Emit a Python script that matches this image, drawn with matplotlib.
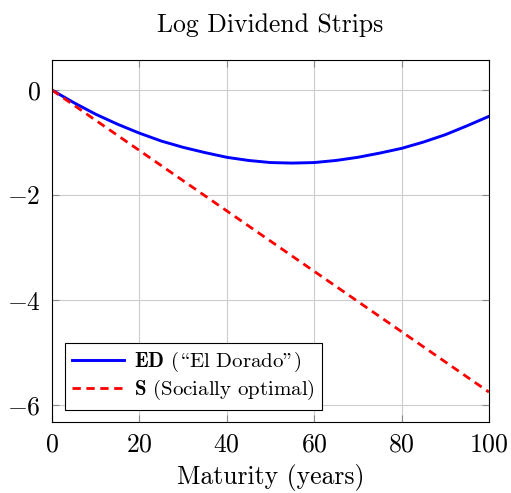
import numpy as np
import matplotlib
matplotlib.use("Agg")
import matplotlib.pyplot as plt

plt.rcParams['font.family'] = ['cmr10', 'DejaVu Serif']
plt.rcParams['mathtext.fontset'] = 'cm'
plt.rcParams['axes.formatter.use_mathtext'] = True
plt.rcParams['axes.unicode_minus'] = True

# maturity in years
maturity = [0, 5, 10, 15, 20, 25, 30, 35, 40, 45, 50,
            55, 60, 65, 70, 75, 80, 85, 90, 95, 100]
# log dividend strips, "El Dorado" economy
ed = [0.0, -0.24, -0.46, -0.65, -0.82, -0.97, -1.09, -1.19, -1.28, -1.34, -1.38,
      -1.39, -1.38, -1.34, -1.28, -1.20, -1.11, -0.99, -0.85, -0.68, -0.50]
# socially optimal economy
s_mat = [0, 100]
s_val = [0.0, -5.75]

fig = plt.figure(figsize=(5.11, 4.93), dpi=100)
ax = fig.add_axes([0.1018, 0.144, 0.855, 0.734])

# cmr10 uses the TeX layout: '\' is the opening and '"' the closing double quote
ax.plot(maturity, ed, color='#0000ff', lw=2.1,
        label=r'$\mathbf{ED}$ (\El Dorado")')
ax.plot(s_mat, s_val, color='#ff0000', lw=2.0, ls=(0, (3, 2)),
        label=r'$\mathbf{S}$ (Socially optimal)')

ax.set_xlim(0, 100)
ax.set_ylim(-6.32, 0.57)
ax.set_xticks([0, 20, 40, 60, 80, 100])
ax.set_yticks([-6, -4, -2, 0])
ax.grid(True, color='#cccccc', lw=0.8)
ax.set_axisbelow(True)
ax.tick_params(direction='in', length=5, color='#888888', labelsize=18.5,
               top=True, right=True, pad=8)
for sp in ax.spines.values():
    sp.set_linewidth(0.8)

ax.set_title('Log Dividend Strips', fontsize=18.5, pad=20)
ax.set_xlabel('Maturity (years)', fontsize=18.5, labelpad=5)

leg = ax.legend(loc='lower left', fontsize=15, fancybox=False, framealpha=1,
                edgecolor='black', borderaxespad=0.6, handlelength=2.5,
                handletextpad=0.5, borderpad=0.35, labelspacing=0.2)
leg.get_frame().set_linewidth(0.8)

fig.savefig('out.png', dpi=100)
